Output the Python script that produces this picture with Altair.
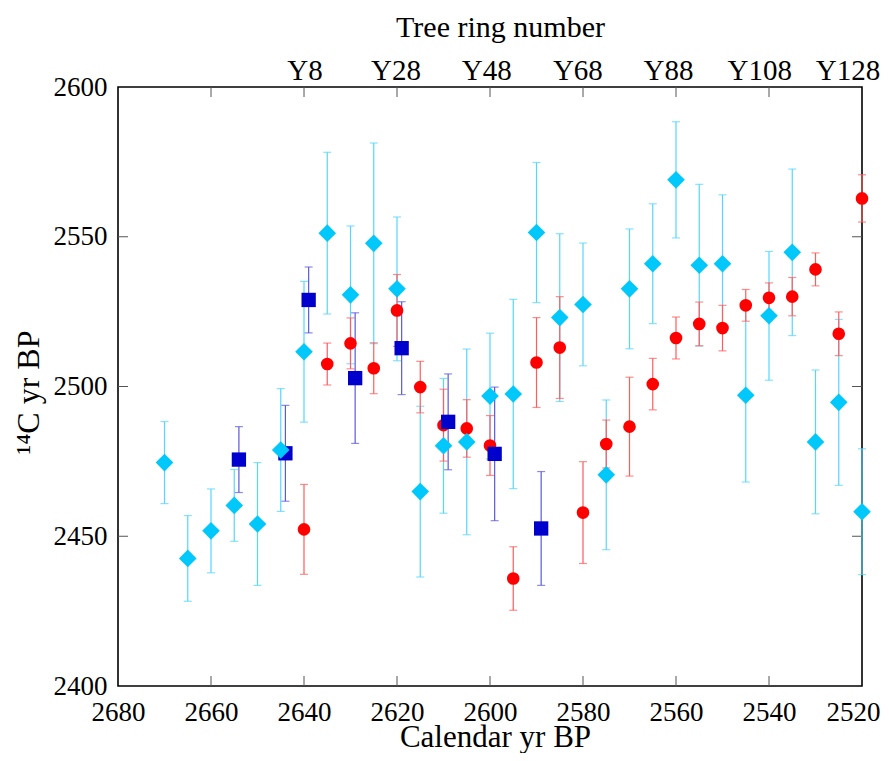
import altair as alt
import pandas as pd

# ---------------- data ----------------
cyan_cal = [2670, 2665, 2660, 2655, 2650, 2645, 2640, 2635, 2630, 2625, 2620,
            2615, 2610, 2605, 2600, 2595, 2590, 2585, 2580, 2575, 2570, 2565,
            2560, 2555, 2550, 2545, 2540, 2535, 2530, 2525, 2520]
cyan_c14 = [2474.6, 2442.6, 2451.8, 2460.3, 2454.1, 2478.8, 2511.6, 2551.2, 2530.6, 2547.8, 2532.6,
            2464.9, 2480.2, 2481.5, 2496.8, 2497.5, 2551.4, 2523.0, 2527.4, 2470.5, 2532.6, 2541.0,
            2569.0, 2540.5, 2541.0, 2497.1, 2523.6, 2544.8, 2481.5, 2494.7, 2458.2]
cyan_err = [13.7, 14.3, 14.0, 12.0, 20.5, 20.5, 23.5, 27.0, 23.0, 33.5, 24.0,
            28.5, 22.5, 31.0, 21.0, 31.6, 23.4, 28.0, 20.5, 25.0, 20.0, 20.0,
            19.4, 27.0, 23.0, 29.0, 21.5, 27.8, 24.0, 27.7, 21.0]

red_cal = [2640, 2635, 2630, 2625, 2620, 2615, 2610, 2605, 2600, 2595, 2590, 2585,
           2580, 2575, 2570, 2565, 2560, 2555, 2550, 2545, 2540, 2535, 2530, 2525, 2520]
red_c14 = [2452.3, 2507.5, 2514.4, 2506.1, 2525.4, 2499.8, 2487.1, 2486.0, 2480.3, 2435.9, 2508.0, 2513.0,
           2457.9, 2480.8, 2486.6, 2500.8, 2516.2, 2520.9, 2519.5, 2527.1, 2529.6, 2530.0, 2539.1, 2517.6, 2562.8]
red_err = [15.0, 7.0, 8.5, 8.5, 12.0, 8.6, 12.0, 9.6, 10.0, 10.6, 15.0, 17.0,
           17.0, 8.0, 16.5, 8.6, 7.0, 7.3, 7.6, 5.3, 5.0, 6.4, 5.5, 7.3, 7.9]

blue_cal = [2654, 2644, 2639, 2629, 2619, 2609, 2599, 2589]
blue_c14 = [2475.6, 2477.7, 2528.9, 2502.8, 2512.8, 2488.2, 2477.5, 2452.6]
blue_err = [11.0, 16.0, 11.0, 21.8, 15.5, 16.0, 22.3, 19.0]

x_ticks = [2680, 2660, 2640, 2620, 2600, 2580, 2560, 2540, 2520]
y_ticks = [2400, 2450, 2500, 2550, 2600]
inner_x_ticks = [2660, 2640, 2620, 2600, 2580, 2560, 2540]
inner_y_ticks = [2450, 2500, 2550]
ring_labels = ["Y8", "Y28", "Y48", "Y68", "Y88", "Y108", "Y128"]
ring_pos = [2639.8, 2620.2, 2600.7, 2581.1, 2561.6, 2542.0, 2523.0]

# ---------------- styling ----------------
W, H = 744, 599
FONT = "Liberation Serif"
CYAN, CYAN_BAR = "#00C8FA", "#55D6FF"
RED, RED_BAR = "#FF0000", "#FF5C5C"
BLUE, BLUE_BAR = "#0000CC", "#5A5ADC"

xscale = alt.Scale(domain=[2520, 2680], reverse=True, nice=False, zero=False)
yscale = alt.Scale(domain=[2400, 2600], nice=False, zero=False)


def frame(cal, c14, err):
    return pd.DataFrame({
        "cal": cal,
        "c14": c14,
        "lo": [v - e for v, e in zip(c14, err)],
        "hi": [v + e for v, e in zip(c14, err)],
    })


cyan_df = frame(cyan_cal, cyan_c14, cyan_err)
red_df = frame(red_cal, red_c14, red_err)
blue_df = frame(blue_cal, blue_c14, blue_err)

X = alt.X("cal:Q", scale=xscale, axis=None)


def err_layers(df, color):
    base = alt.Chart(df)
    rule = base.mark_rule(color=color, strokeWidth=1.2).encode(
        x=X, y=alt.Y("lo:Q", scale=yscale, axis=None), y2="hi:Q")
    lo = base.mark_tick(color=color, orient="horizontal", size=8, thickness=1.2).encode(
        x=X, y=alt.Y("lo:Q", scale=yscale, axis=None))
    hi = base.mark_tick(color=color, orient="horizontal", size=8, thickness=1.2).encode(
        x=X, y=alt.Y("hi:Q", scale=yscale, axis=None))
    return [rule, lo, hi]


# inward tick marks on all four sides
xt = pd.DataFrame({"t": inner_x_ticks})
yt = pd.DataFrame({"t": inner_y_ticks})
tick_color = "#555555"
bottom_ticks = alt.Chart(xt).mark_rule(color=tick_color, strokeWidth=1).encode(
    x=alt.X("t:Q", scale=xscale, axis=None), y=alt.value(H), y2=alt.value(H - 10))
top_ticks = alt.Chart(xt).mark_rule(color=tick_color, strokeWidth=1).encode(
    x=alt.X("t:Q", scale=xscale, axis=None), y=alt.value(0), y2=alt.value(10))
left_ticks = alt.Chart(yt).mark_rule(color=tick_color, strokeWidth=1).encode(
    y=alt.Y("t:Q", scale=yscale, axis=None), x=alt.value(0), x2=alt.value(10))
right_ticks = alt.Chart(yt).mark_rule(color=tick_color, strokeWidth=1).encode(
    y=alt.Y("t:Q", scale=yscale, axis=None), x=alt.value(W), x2=alt.value(W - 10))

red_pts = alt.Chart(red_df).mark_point(shape="circle", filled=True, size=160, opacity=1,
                                       color=RED, strokeWidth=0).encode(
    x=X, y=alt.Y("c14:Q", scale=yscale, axis=None))
blue_pts = alt.Chart(blue_df).mark_point(shape="square", filled=True, size=205, opacity=1,
                                         color=BLUE, strokeWidth=0).encode(
    x=X, y=alt.Y("c14:Q", scale=yscale, axis=None))

last_x = x_ticks[-1]
cyan_pts = alt.Chart(cyan_df).mark_point(shape="diamond", filled=True, size=310, opacity=1,
                                         color=CYAN, strokeWidth=0).encode(
    x=alt.X("cal:Q", scale=xscale,
            axis=alt.Axis(values=x_ticks, title="Calendar yr BP", format="d",
                          labelFont=FONT, labelFontSize=27, labelColor="black",
                          labelFlush=False, labelOverlap=False,
                          labelAlign={"expr": f"datum.value == {last_x} ? 'right' : 'center'"},
                          labelOffset={"expr": f"datum.value == {last_x} ? 18 : 0"},
                          labelPadding=13, ticks=False, tickSize=0, domain=False, grid=False,
                          titleFont=FONT, titleFontSize=31, titleFontWeight="normal",
                          titleColor="black", titleX=377, titleY=60,
                          titleBaseline="alphabetic", titleAlign="center")),
    y=alt.Y("c14:Q", scale=yscale,
            axis=alt.Axis(values=y_ticks, title="¹⁴C yr BP", format="d",
                          labelFont=FONT, labelFontSize=27, labelColor="black",
                          labelFlush=False, labelOverlap=False,
                          labelPadding=11, ticks=False, tickSize=0, domain=False, grid=False,
                          titleFont=FONT, titleFontSize=32, titleFontWeight="normal",
                          titleColor="black", titleX=-80, titleY=305, titleAngle=-90,
                          titleBaseline="alphabetic", titleAlign="center")))

ring_df = pd.DataFrame({"pos": ring_pos, "label": ring_labels})
top_labels = alt.Chart(ring_df).mark_text(font=FONT, fontSize=29, color="black",
                                          baseline="alphabetic", align="center").encode(
    x=alt.X("pos:Q", scale=xscale,
            axis=alt.Axis(orient="top", values=[], title="Tree ring number",
                          labels=False, ticks=False, domain=False, grid=False,
                          titleFont=FONT, titleFontSize=30, titleFontWeight="normal",
                          titleColor="black", titleX=382, titleY=-51,
                          titleBaseline="alphabetic", titleAlign="center")),
    y=alt.value(-7),
    text="label:N")

layers = ([bottom_ticks, top_ticks, left_ticks, right_ticks]
          + err_layers(cyan_df, CYAN_BAR)
          + err_layers(red_df, RED_BAR)
          + err_layers(blue_df, BLUE_BAR)
          + [red_pts, blue_pts, cyan_pts, top_labels])

chart = alt.layer(*layers).resolve_axis(x="independent", y="independent").properties(
    width=W, height=H,
    autosize=alt.AutoSizeParams(type="none"),
    padding={"left": 110, "top": 79, "right": 19, "bottom": 67},
).configure_view(stroke="black", strokeWidth=1.6).configure_axis(grid=False)

chart.save("out.html", embed_options={"renderer": "svg", "actions": False})
